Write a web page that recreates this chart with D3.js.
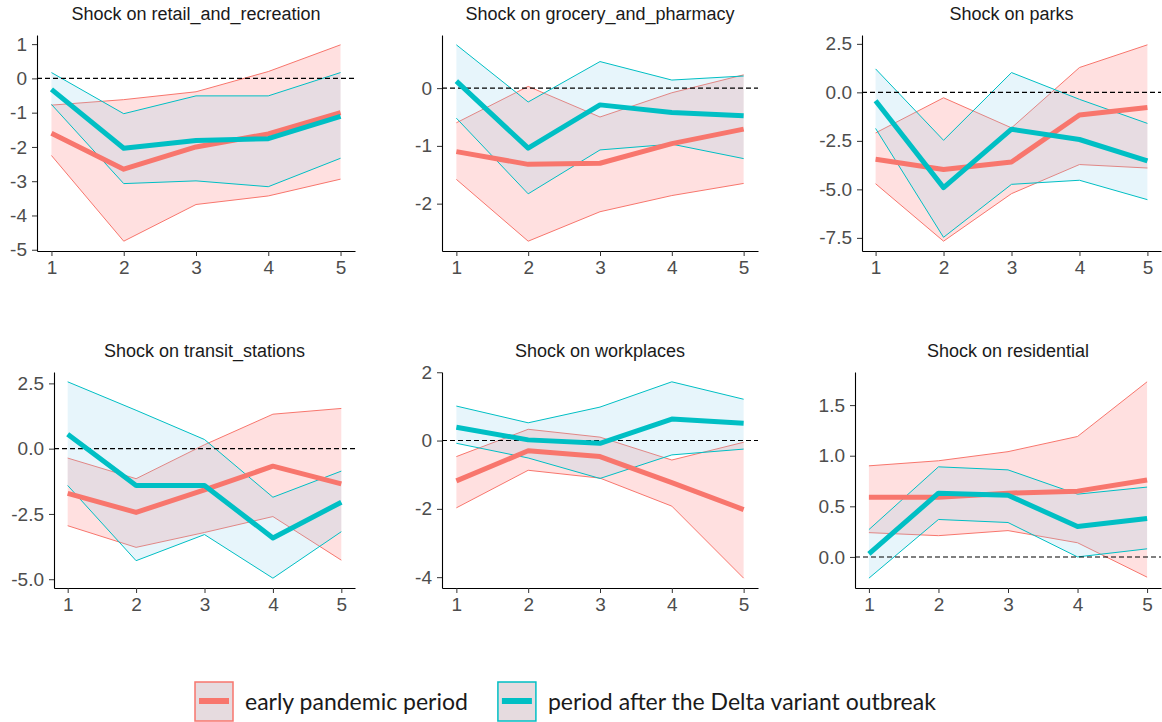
<!DOCTYPE html>
<html>
<head>
<meta charset="utf-8">
<script src="https://cdn.jsdelivr.net/npm/d3@7"></script>
<style>
  html, body { margin: 0; padding: 0; background: #ffffff; }
  svg { display: block; }
</style>
</head>
<body>
<svg id="chart" width="1162" height="722"></svg>
<script>
// Impulse-response horizons
const steps = [1, 2, 3, 4, 5];

// Mobility category shocked in each panel
const categories = [
  "retail_and_recreation", "grocery_and_pharmacy", "parks",
  "transit_stations", "workplaces", "residential"
];

// Series labels
const seriesNames = ["early pandemic period", "period after the Delta variant outbreak"];

// Early pandemic period: response, lower and upper band (one row per category)
const earlyMean = [
  [-1.60, -2.65, -2.00, -1.62, -1.00],
  [-1.10, -1.32, -1.30, -0.96, -0.71],
  [-3.45, -3.98, -3.59, -1.17, -0.78],
  [-1.71, -2.44, -1.58, -0.67, -1.35],
  [-1.18, -0.30, -0.47, -1.23, -2.02],
  [0.59, 0.59, 0.63, 0.65, 0.76]
];
const earlyLower = [
  [-2.25, -4.75, -3.68, -3.43, -2.94],
  [-1.58, -2.65, -2.14, -1.86, -1.65],
  [-4.71, -7.67, -5.22, -3.72, -3.90],
  [-2.95, -3.78, -3.21, -2.60, -4.27],
  [-1.97, -0.87, -1.10, -1.92, -4.03],
  [0.24, 0.21, 0.26, 0.14, -0.20]
];
const earlyUpper = [
  [-0.78, -0.62, -0.39, 0.20, 0.98],
  [-0.60, 0.03, -0.50, -0.08, 0.23],
  [-2.09, -0.28, -1.83, 1.28, 2.45],
  [-0.36, -1.15, 0.15, 1.32, 1.54],
  [-0.47, 0.33, 0.10, -0.57, -0.05],
  [0.90, 0.95, 1.04, 1.19, 1.73]
];

// Period after the Delta variant outbreak: response, lower and upper band
const deltaMean = [
  [-0.32, -2.04, -1.81, -1.76, -1.11],
  [0.12, -1.04, -0.29, -0.42, -0.48],
  [-0.43, -4.91, -1.90, -2.43, -3.53],
  [0.55, -1.41, -1.41, -3.42, -2.05],
  [0.39, 0.02, -0.08, 0.63, 0.51],
  [0.03, 0.63, 0.61, 0.30, 0.38]
];
const deltaLower = [
  [-0.76, -3.07, -2.99, -3.16, -2.33],
  [-0.52, -1.83, -1.07, -0.97, -1.22],
  [-1.86, -7.47, -4.74, -4.53, -5.53],
  [-1.41, -4.29, -3.29, -4.96, -3.18],
  [-0.08, -0.51, -1.11, -0.42, -0.25],
  [-0.21, 0.37, 0.34, 0.00, 0.08]
];
const deltaUpper = [
  [0.17, -1.03, -0.51, -0.51, 0.17],
  [0.75, -0.24, 0.46, 0.14, 0.21],
  [1.21, -2.47, 1.02, -0.36, -1.60],
  [2.56, 1.47, 0.35, -1.86, -0.86],
  [1.01, 0.52, 0.98, 1.72, 1.21],
  [0.27, 0.89, 0.86, 0.62, 0.69]
];

// Y-axis tick values and their labels, per panel
const yTicks = [
  [1, 0, -1, -2, -3, -4, -5],
  [0, -1, -2],
  [2.5, 0, -2.5, -5, -7.5],
  [2.5, 0, -2.5, -5],
  [2, 0, -2, -4],
  [0, 0.5, 1, 1.5]
];
const yTickLabels = [
  ["1", "0", "-1", "-2", "-3", "-4", "-5"],
  ["0", "-1", "-2"],
  ["2.5", "0.0", "-2.5", "-5.0", "-7.5"],
  ["2.5", "0.0", "-2.5", "-5.0"],
  ["2", "0", "-2", "-4"],
  ["0.0", "0.5", "1.0", "1.5"]
];

// ---- layout -------------------------------------------------------------
const panelBoxes = [
  { left: 37,  right: 355,  top: 35,  bottom: 251 },
  { left: 442, right: 758,  top: 35,  bottom: 251 },
  { left: 862, right: 1161, top: 35,  bottom: 251 },
  { left: 54,  right: 355,  top: 372, bottom: 588 },
  { left: 442, right: 758,  top: 372, bottom: 588 },
  { left: 855, right: 1161, top: 372, bottom: 588 }
];

const colors = { early: "#F8766D", delta: "#00BFC4" };
const fills = { early: "rgba(255,0,0,0.12)", delta: "rgba(135,206,235,0.2)" };
const baseFont = "'Liberation Sans', Arial, sans-serif";

const svg = d3.select("#chart");

categories.forEach((cat, i) => {
  const box = panelBoxes[i];
  const g = svg.append("g");

  // y extent covers both bands and the zero reference, padded 5% like ggplot
  const all = [].concat(earlyLower[i], earlyUpper[i], deltaLower[i], deltaUpper[i], [0]);
  const [lo, hi] = d3.extent(all);
  const pad = (hi - lo) * 0.05;

  const x = d3.scaleLinear().domain([0.8, 5.2]).range([box.left, box.right]);
  const y = d3.scaleLinear().domain([lo - pad, hi + pad]).range([box.bottom, box.top]);

  const band = (lower, upper) => d3.area()
    .x((d, k) => x(steps[k]))
    .y0((d, k) => y(lower[k]))
    .y1((d, k) => y(upper[k]));
  const line = d3.line().x((d, k) => x(steps[k])).y(d => y(d));

  // confidence bands
  [["early", earlyLower[i], earlyUpper[i]], ["delta", deltaLower[i], deltaUpper[i]]]
    .forEach(([key, lower, upper]) => {
      g.append("path").datum(steps)
        .attr("d", band(lower, upper))
        .attr("fill", fills[key]);
      g.append("path").datum(lower)
        .attr("d", line).attr("fill", "none")
        .attr("stroke", colors[key]).attr("stroke-width", 1);
      g.append("path").datum(upper)
        .attr("d", line).attr("fill", "none")
        .attr("stroke", colors[key]).attr("stroke-width", 1);
    });

  // zero reference
  g.append("line")
    .attr("x1", box.left).attr("x2", box.right)
    .attr("y1", y(0)).attr("y2", y(0))
    .attr("stroke", "#000").attr("stroke-width", 1.1)
    .attr("stroke-dasharray", "5,3");

  // point responses
  [["early", earlyMean[i]], ["delta", deltaMean[i]]].forEach(([key, vals]) => {
    g.append("path").datum(vals)
      .attr("d", line).attr("fill", "none")
      .attr("stroke", colors[key]).attr("stroke-width", 5)
      .attr("stroke-linejoin", "round");
  });

  // axes
  const xAxis = d3.axisBottom(x).tickValues(steps).tickFormat(d3.format("d"))
    .tickSizeInner(5).tickSizeOuter(0).tickPadding(5);
  const yAxis = d3.axisLeft(y).tickValues(yTicks[i])
    .tickFormat((d, k) => yTickLabels[i][k])
    .tickSizeInner(5).tickSizeOuter(0).tickPadding(5);

  const gx = g.append("g").attr("transform", `translate(0,${box.bottom})`).call(xAxis);
  const gy = g.append("g").attr("transform", `translate(${box.left},0)`).call(yAxis);
  [gx, gy].forEach(a => {
    a.select(".domain").attr("stroke", "#000").attr("stroke-width", 1.1);
    a.selectAll(".tick line").attr("stroke", "#333");
    a.selectAll(".tick text")
      .attr("fill", "#4D4D4D")
      .style("font-family", baseFont)
      .style("font-size", "19px");
  });

  // panel title
  g.append("text")
    .attr("x", (box.left + box.right) / 2)
    .attr("y", box.top - 15)
    .attr("text-anchor", "middle")
    .attr("fill", "#1A1A1A")
    .style("font-family", baseFont)
    .style("font-size", "18px")
    .text("Shock on " + cat);
});

// ---- legend -------------------------------------------------------------
const legend = svg.append("g");
let legendX = 195;
seriesNames.forEach((name, j) => {
  const key = j === 0 ? "early" : "delta";
  legend.append("rect")
    .attr("x", legendX).attr("y", 682).attr("width", 38).attr("height", 39)
    .attr("fill", "#E6DBDF")
    .attr("stroke", colors[key]).attr("stroke-width", 1.5);
  legend.append("line")
    .attr("x1", legendX + 4).attr("x2", legendX + 34)
    .attr("y1", 701).attr("y2", 701)
    .attr("stroke", colors[key]).attr("stroke-width", 6);
  const label = legend.append("text")
    .attr("x", legendX + 50).attr("y", 710)
    .attr("fill", "#1A1A1A")
    .style("font-family", "Lato, 'Open Sans', sans-serif")
    .style("font-size", "23px")
    .text(name);
  legendX += 50 + label.node().getComputedTextLength() + 30;
});
</script>
</body>
</html>
